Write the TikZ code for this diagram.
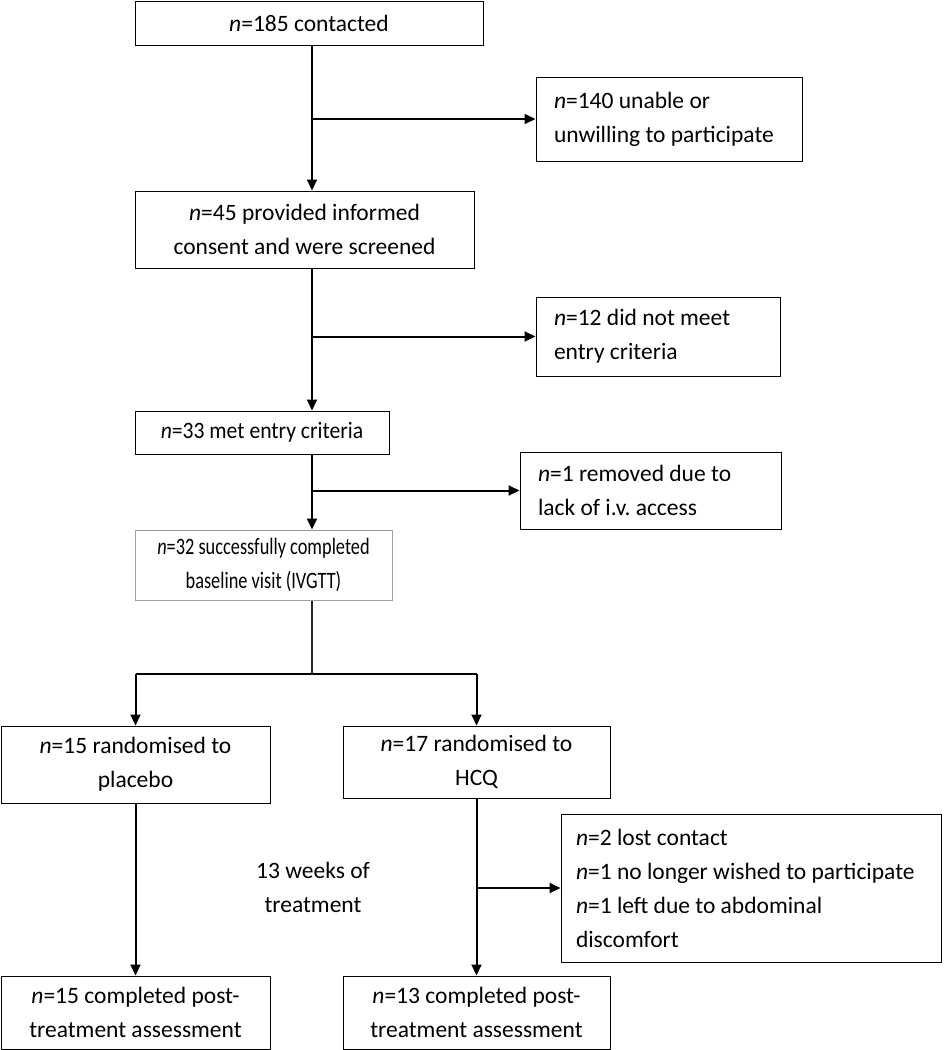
\documentclass[tikz,border=0pt]{standalone}
\usepackage{fontspec}
\setmainfont{Carlito}
\usetikzlibrary{arrows.meta}
\tikzset{
 txt/.style={font=\fontsize{23.5}{34}\selectfont\frenchspacing},
 box/.style={txt, draw, rectangle, line width=1pt, inner xsep=14pt, inner ysep=0pt, align=center},
 narrow/.style={font=\fontsize{23.5}{34}\selectfont\frenchspacing\addfontfeatures{FakeStretch=#1}},
 arr/.style={line width=2pt, -{Triangle[length=11pt,width=10pt]}},
 ln/.style={line width=2pt},
 thinln/.style={line width=1.4pt, draw=black!85},
}
\newcommand\cbx[7][]{\node[box, #1, minimum width={#4-#2}, minimum height={#5-#3}] (#6) at ({(#2+#4)/2},{(#3+#5)/2}) {#7};}
\newcommand\lbx[7][18]{\node[box, align=flush left, inner xsep=#1pt, minimum width={#4-#2}, minimum height={#5-#3}, text width={#4-#2-2*#1}] (#6) at ({(#2+#4)/2},{(#3+#5)/2}) {#7};}
\begin{document}
\begin{tikzpicture}[x=1pt,y=-1pt]
\useasboundingbox (0,0) rectangle (944,1050);
\cbx{135}{1}{483}{45}{a}{\textit{n}=185 contacted}
\lbx{536}{77}{802}{161}{r1}{\textit{n}=140 unable or\\\mbox{unwilling to participate}}
\cbx{135}{191}{474}{268}{b}{\textit{n}=45 provided informed\\consent and were screened}
\lbx{536}{297}{780}{376}{r2}{\textit{n}=12 did not meet\\entry criteria}
\cbx[narrow=0.92]{135}{411}{389}{454}{c}{\textit{n}=33 met entry criteria}
\lbx{520}{452}{781}{529}{r3}{\textit{n}=1 removed due to\\lack of i.v. access}
\cbx[draw=gray!75,narrow=0.78]{135}{530}{392}{600}{d}{\textit{n}=32 successfully completed\\baseline visit (IVGTT)}
\cbx{1}{726}{270}{803}{e}{\textit{n}=15 randomised to\\placebo}
\cbx{343}{726}{610}{798}{f}{\textit{n}=17 randomised to\\HCQ}
\lbx[15]{561}{814}{941}{962}{r4}{\textit{n}=2 lost contact\\\mbox{\textit{n}=1 no longer wished to participate}\\\textit{n}=1 left due to abdominal\\discomfort}
\cbx{1}{976}{270}{1049}{g}{\textit{n}=15 completed post-\\treatment assessment}
\cbx{343}{976}{610}{1049}{h}{\textit{n}=13 completed post-\\treatment assessment}
\node[txt, align=center] (wk) at (313,887) {13 weeks of\\treatment};
\coordinate (sp) at (312,0);
\coordinate (j) at (312,674);
\draw[arr] (a.south -| sp) -- (b.north -| sp);
\draw[arr] (sp |- r1.west) -- (r1.west);
\draw[arr] (b.south -| sp) -- (c.north -| sp);
\draw[arr] (sp |- r2.west) -- (r2.west);
\draw[arr] (c.south -| sp) -- (d.north -| sp);
\draw[arr] (sp |- r3.west) -- (r3.west);
\draw[thinln] (d.south -| sp) -- (j);
\draw[ln] (e.north |- j) -- (f.north |- j);
\draw[arr] (e.north |- j) -- (e.north);
\draw[arr] (f.north |- j) -- (f.north);
\draw[arr] (e.south) -- (g.north);
\draw[arr] (f.south) -- (h.north);
\draw[arr] (f.south |- r4.west) -- (r4.west);
\end{tikzpicture}
\end{document}
